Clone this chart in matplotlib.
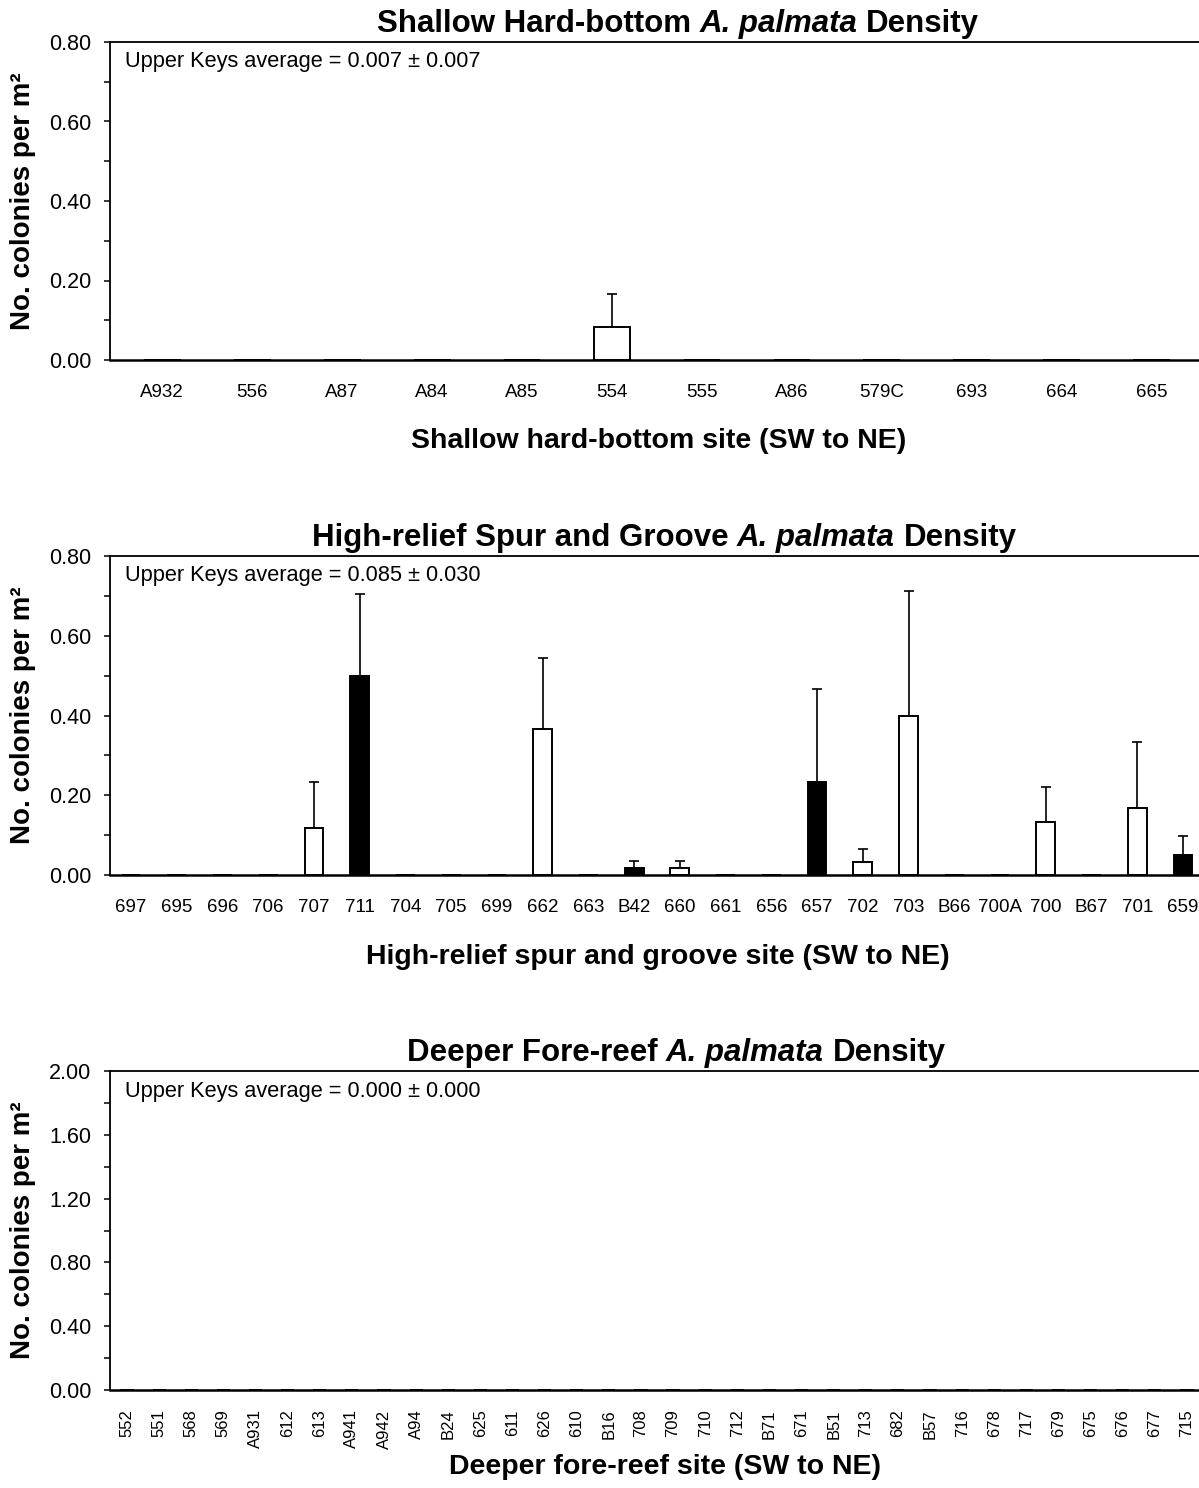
import matplotlib
matplotlib.use('Agg')
import matplotlib.pyplot as plt
import numpy as np
from matplotlib.ticker import MultipleLocator, FormatStrFormatter

plt.rcParams['font.family'] = ['Liberation Sans', 'DejaVu Sans']

# ---------------- data ----------------
shallow_sites = ["A932", "556", "A87", "A84", "A85", "554", "555", "A86",
                 "579C", "693", "664", "665"]
shallow_mean = [0, 0, 0, 0, 0, 0.083, 0, 0, 0, 0, 0, 0]
shallow_se = [0, 0, 0, 0, 0, 0.083, 0, 0, 0, 0, 0, 0]
shallow_filled = [False] * 12
shallow_avg = "Upper Keys average = 0.007 \u00b1 0.007"

spur_sites = ["697", "695", "696", "706", "707", "711", "704", "705", "699",
              "662", "663", "B42", "660", "661", "656", "657", "702", "703",
              "B66", "700A", "700", "B67", "701", "659"]
spur_mean = [0, 0, 0, 0, 0.117, 0.500, 0, 0, 0, 0.367, 0, 0.017, 0.017, 0,
             0, 0.233, 0.033, 0.400, 0, 0, 0.133, 0, 0.167, 0.050]
spur_se = [0, 0, 0, 0, 0.117, 0.205, 0, 0, 0, 0.177, 0, 0.017, 0.017, 0,
           0, 0.234, 0.031, 0.313, 0, 0, 0.088, 0, 0.166, 0.049]
spur_filled = [False, False, False, False, False, True, False, False, False,
               False, False, True, False, False, False, True, False, False,
               False, False, False, False, False, True]
spur_avg = "Upper Keys average = 0.085 \u00b1 0.030"

deep_sites = ["552", "551", "568", "569", "A931", "612", "613", "A941", "A942",
              "A94", "B24", "625", "611", "626", "610", "B16", "708", "709",
              "710", "712", "B71", "671", "B51", "713", "682", "B57", "716",
              "678", "717", "679", "675", "676", "677", "715"]
deep_mean = [0, 0, 0, 0, 0, 0, 0, 0, 0, 0, 0, 0, 0, 0, 0, 0, 0,
             0, 0, 0, 0, 0, 0, 0, 0, 0, 0, 0, 0, 0, 0, 0, 0, 0]
deep_se = [0, 0, 0, 0, 0, 0, 0, 0, 0, 0, 0, 0, 0, 0, 0, 0, 0,
           0, 0, 0, 0, 0, 0, 0, 0, 0, 0, 0, 0, 0, 0, 0, 0, 0]
deep_filled = [False] * 34
deep_avg = "Upper Keys average = 0.000 \u00b1 0.000"

ylabel_text = "No. colonies per m\u00b2"

# ---------------- layout ----------------
W, H = 1199, 1488
fig = plt.figure(figsize=(W / 100, H / 100), dpi=100)
renderer = fig.canvas.get_renderer()

def fx(px):
    return px / W

def fy(py):
    return 1 - py / H

AX_L, AX_R = 110, 1204


def mixed_title(parts, cx_px, base_px, size=22.5):
    texts = []
    for s, style in parts:
        t = fig.text(0, fy(base_px), s, fontsize=size, fontweight='bold',
                     fontstyle=style, va='baseline', ha='left')
        texts.append(t)
    gap = 0.278 * size * 100 / 72
    widths = [t.get_window_extent(renderer).width for t in texts]
    total = sum(widths) + gap * (len(texts) - 1)
    x = cx_px - total / 2
    for t, w in zip(texts, widths):
        t.set_x(fx(x))
        x += w + gap


def panel(top_px, bot_px, sites, mean, se, filled, ymax, major, minor,
          title_parts, avg, offset, title_cx, rotate=False):
    ax = fig.add_axes([fx(AX_L), fy(bot_px), fx(AX_R - AX_L),
                       (bot_px - top_px) / H])
    n = len(sites)
    x = np.arange(n)
    mean = np.asarray(mean, dtype=float)
    se = np.asarray(se, dtype=float)
    colors = ['black' if f else 'white' for f in filled]
    ax.bar(x, mean, width=0.41, color=colors, edgecolor='black',
           linewidth=1.4, zorder=3)
    m = se > 0
    ax.errorbar(x[m], mean[m], yerr=[np.zeros(m.sum()), se[m]], fmt='none',
                ecolor='black', elinewidth=1.2, capsize=3.3, capthick=1.2,
                zorder=2)
    ax.set_xlim(-offset, n - 1 + offset)
    ax.set_ylim(0, ymax)
    ax.yaxis.set_major_locator(MultipleLocator(major))
    ax.yaxis.set_minor_locator(MultipleLocator(minor))
    ax.yaxis.set_major_formatter(FormatStrFormatter('%.2f'))
    ax.tick_params(axis='y', which='both', direction='out', length=4.5,
                   width=1.1, labelsize=15.5, pad=9)
    ax.set_xticks(x)
    if rotate:
        ax.set_xticklabels(sites, rotation=90, fontsize=12)
        ax.tick_params(axis='x', length=0, pad=14)
    else:
        ax.set_xticklabels(sites, fontsize=13.5)
        ax.tick_params(axis='x', length=0, pad=17)
    ax.spines['right'].set_visible(False)
    ax.spines['left'].set_linewidth(1.3)
    ax.spines['top'].set_linewidth(1.3)
    ax.spines['bottom'].set_linewidth(1.8)
    ax.text((125 - AX_L) / (AX_R - AX_L), 1 - 20 / (bot_px - top_px),
            avg, transform=ax.transAxes, fontsize=15.7, va='center', ha='left')
    mixed_title(title_parts, title_cx, top_px - 10)
    fig.text(fx(23), fy((top_px + bot_px) / 2), ylabel_text, rotation=90,
             fontsize=20, fontweight='bold', ha='center', va='center')
    return ax


panel(42, 360, shallow_sites, shallow_mean, shallow_se, shallow_filled,
      0.80, 0.20, 0.10,
      [("Shallow Hard-bottom", 'normal'), ("A. palmata", 'italic'),
       ("Density", 'normal')],
      shallow_avg, 0.58, 678)
fig.text(fx(659), fy(441), "Shallow hard-bottom site (SW to NE)",
         fontsize=20.5, fontweight='bold', ha='center', va='center')

panel(556, 875, spur_sites, spur_mean, spur_se, spur_filled,
      0.80, 0.20, 0.10,
      [("High-relief Spur and Groove", 'normal'), ("A. palmata", 'italic'),
       ("Density", 'normal')],
      spur_avg, 0.46, 664)
fig.text(fx(658), fy(957), "High-relief spur and groove site (SW to NE)",
         fontsize=20.5, fontweight='bold', ha='center', va='center')

panel(1071, 1390, deep_sites, deep_mean, deep_se, deep_filled,
      2.00, 0.40, 0.20,
      [("Deeper Fore-reef", 'normal'), ("A. palmata", 'italic'),
       ("Density", 'normal')],
      deep_avg, 0.53, 676, rotate=True)
fig.text(fx(665), fy(1467), "Deeper fore-reef site (SW to NE)",
         fontsize=20.5, fontweight='bold', ha='center', va='center')

fig.savefig("out.png", dpi=100)
